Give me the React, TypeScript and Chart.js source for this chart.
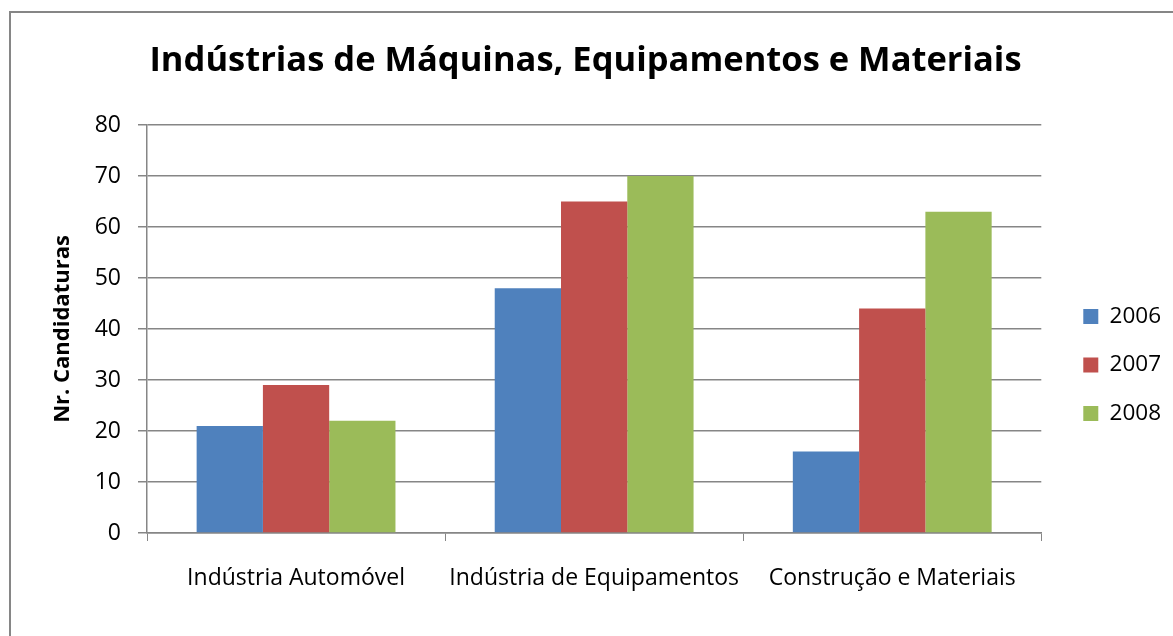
import React, { useEffect, useRef } from "react";
import { Chart, registerables } from "chart.js";

Chart.register(...registerables);

const categories = ["Indústria Automóvel", "Indústria de Equipamentos", "Construção e Materiais"];
const years = ["2006", "2007", "2008"];
const values2006 = [21, 48, 16];
const values2007 = [29, 65, 44];
const values2008 = [22, 70, 63];
const colors = ["#4F81BD", "#C0504D", "#9BBB59"];
const titleText = "Indústrias de Máquinas, Equipamentos e Materiais";
const yAxisTitle = "Nr. Candidaturas";

const FONT = "'Open Sans', 'DejaVu Sans', sans-serif";
const GRID = "#868686";

const framePlugin = {
  id: "frame",
  beforeDraw(chart: any) {
    const ctx = chart.ctx;
    ctx.save();
    ctx.strokeStyle = GRID;
    ctx.lineWidth = 2;
    ctx.beginPath();
    ctx.moveTo(10, chart.height + 5);
    ctx.lineTo(10, 12);
    ctx.lineTo(chart.width + 5, 12);
    ctx.stroke();
    ctx.restore();
  },
};

export default function App() {
  const ref = useRef<HTMLCanvasElement | null>(null);
  useEffect(() => {
    if (!ref.current) return;
    const series = [values2006, values2007, values2008];
    const chart = new Chart(ref.current, {
      type: "bar",
      data: {
        labels: categories,
        datasets: years.map((y, i) => ({
          label: y,
          data: series[i],
          backgroundColor: colors[i],
          borderWidth: 0,
          categoryPercentage: 0.667,
          barPercentage: 1,
        })),
      },
      plugins: [framePlugin],
      options: {
        responsive: false,
        animation: false,
        layout: { padding: { left: 0, right: 2, top: 0, bottom: 0 } },
        plugins: {
          tooltip: { enabled: false },
          title: {
            display: true,
            text: titleText,
            color: "#000",
            font: { family: FONT, size: 34.5, weight: "bold", lineHeight: 1.2 },
            padding: { top: 40.5, bottom: 43.1 },
          },
          legend: {
            position: "right",
            fullSize: false,
            title: {
              display: true,
              text: " ",
              font: { size: 10, lineHeight: 1 },
              padding: { top: 62, bottom: 0 },
            },
            labels: {
              color: "#000",
              boxWidth: 15,
              boxHeight: 15,
              padding: 26,
              font: { family: FONT, size: 22.5 },
            },
          },
        },
        scales: {
          x: {
            grid: {
              display: true,
              drawOnChartArea: false,
              drawTicks: true,
              tickLength: 8,
              color: GRID,
              offset: true,
            },
            border: { display: true, color: GRID, width: 1.5 },
            ticks: {
              color: "#000",
              padding: 24,
              maxRotation: 0,
              autoSkip: false,
              font: { family: FONT, size: 23 },
            },
            afterFit: (s: any) => {
              s.height = 103;
            },
          },
          y: {
            min: 0,
            max: 80,
            ticks: {
              stepSize: 10,
              color: "#000",
              padding: 17,
              font: { family: FONT, size: 23 },
            },
            grid: { color: GRID, lineWidth: 1.5, tickLength: 9 },
            border: { display: true, color: GRID, width: 1.5 },
            title: {
              display: true,
              text: yAxisTitle,
              color: "#000",
              font: { family: FONT, size: 22, weight: "bold", lineHeight: 1.2 },
              padding: { top: 50, bottom: 0 },
            },
            afterFit: (s: any) => {
              s.width = 147;
            },
          },
          y2: {
            position: "right",
            display: true,
            grid: { display: false, drawTicks: false },
            border: { display: false },
            ticks: { display: false },
            afterFit: (s: any) => {
              s.width = 16;
            },
          },
        },
      },
    } as any);
    return () => chart.destroy();
  }, []);
  return (
    <div style={{ position: "fixed", left: 0, top: 0, width: 1173, height: 636, background: "#fff" }}>
      <canvas ref={ref} width={1173} height={636} />
    </div>
  );
}
